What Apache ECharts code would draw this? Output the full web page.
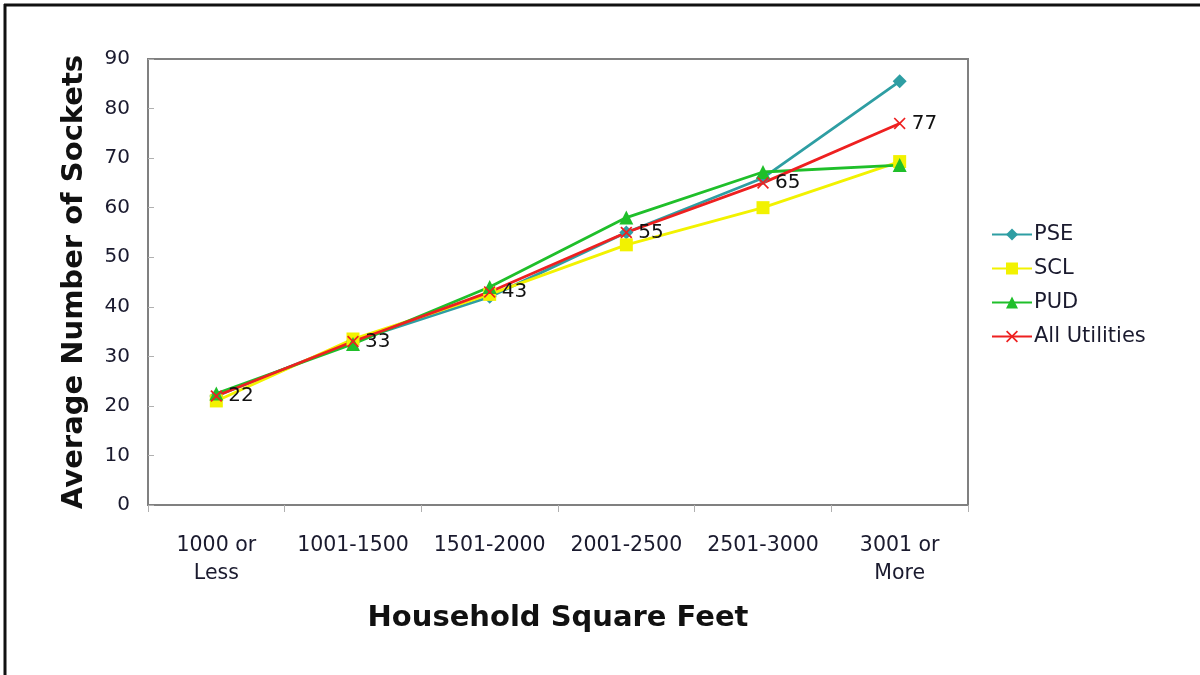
<!DOCTYPE html>
<html>
<head>
<meta charset="utf-8">
<script src="https://cdn.jsdelivr.net/npm/echarts@6/dist/echarts.min.js"></script>
<style>
  html, body { margin: 0; padding: 0; background: #fff; }
  #chart { width: 1200px; height: 675px; }
</style>
</head>
<body>
<div id="chart"></div>
<script>
// Household size bands
const categories = ['1000 or\nLess', '1001-1500', '1501-2000', '2001-2500', '2501-3000', '3001 or\nMore'];

// Average number of sockets per utility
const pse = [22, 33, 42, 55, 66, 85.5];
const scl = [21, 33.5, 42.5, 52.5, 60, 69.3];
const pud = [22.5, 32.5, 44, 58, 67.2, 68.6];
const allUtilities = [22, 33, 43, 55, 65, 77];

// Y axis ticks
const yMin = 0, yMax = 90, yStep = 10;

const font = 'DejaVu Sans, Verdana, sans-serif';
const crossPath = 'path://M0,1 L1,0 L5,4 L9,0 L10,1 L6,5 L10,9 L9,10 L5,6 L1,10 L0,9 L4,5 Z';

function lineSeries(name, data, color, symbol, size, extra) {
  return Object.assign({
    name: name,
    type: 'line',
    data: data,
    symbol: symbol,
    symbolSize: size,
    showAllSymbol: true,
    lineStyle: { color: color, width: 2.8 },
    itemStyle: { color: color },
    emphasis: { disabled: true },
    animation: false
  }, extra || {});
}

const chart = echarts.init(document.getElementById('chart'));
chart.setOption({
  backgroundColor: '#ffffff',
  textStyle: { fontFamily: font },
  grid: { left: 148, right: 232, top: 59, bottom: 170, show: true, borderColor: '#808080', borderWidth: 2, backgroundColor: 'transparent' },
  legend: {
    orient: 'vertical',
    left: 986,
    top: 219,
    itemWidth: 40,
    itemHeight: 15,
    itemGap: 13,
    textStyle: { fontFamily: font, fontSize: 21, color: '#1a1a2e', padding: [0, 0, 0, -3] },
    data: ['PSE', 'SCL', 'PUD', 'All Utilities']
  },
  xAxis: {
    type: 'category',
    data: categories,
    boundaryGap: true,
    axisLine: { show: true, lineStyle: { color: '#808080', width: 2 } },
    axisTick: { show: true, length: 7, lineStyle: { color: '#b0b0b0' } },
    axisLabel: { fontFamily: font, fontSize: 20.5, color: '#1a1a2e', lineHeight: 28, margin: 27, interval: 0 },
    name: 'Household Square Feet',
    nameLocation: 'middle',
    nameGap: 99,
    nameTextStyle: { fontFamily: font, fontSize: 29, fontWeight: 'bold', color: '#111' }
  },
  yAxis: {
    type: 'value',
    min: yMin,
    max: yMax,
    interval: yStep,
    axisLine: { show: true, lineStyle: { color: '#808080', width: 2 } },
    axisTick: { show: true, inside: true, length: 6, lineStyle: { color: '#b0b0b0' } },
    splitLine: { show: false },
    axisLabel: { fontFamily: font, fontSize: 20, color: '#1a1a2e', margin: 18 },
    name: 'Average Number of Sockets',
    nameLocation: 'middle',
    nameGap: 59,
    nameTextStyle: { fontFamily: font, fontSize: 29, fontWeight: 'bold', color: '#111' }
  },
  series: [
    lineSeries('PSE', pse, '#2e9ea3', 'diamond', 14),
    lineSeries('SCL', scl, '#f2f200', 'rect', 13),
    lineSeries('PUD', pud, '#1fbf2a', 'triangle', 14),
    lineSeries('All Utilities', allUtilities, '#ee2020', crossPath, 12, {
      label: { show: true, position: 'right', distance: 6, fontFamily: font, fontSize: 20, color: '#111' }
    })
  ],
  graphic: [
    { type: 'line', shape: { x1: 4, y1: 5, x2: 1200, y2: 5 }, style: { stroke: '#111', lineWidth: 3 }, silent: true },
    { type: 'line', shape: { x1: 5, y1: 4, x2: 5, y2: 675 }, style: { stroke: '#111', lineWidth: 3 }, silent: true }
  ]
});
</script>
</body>
</html>
